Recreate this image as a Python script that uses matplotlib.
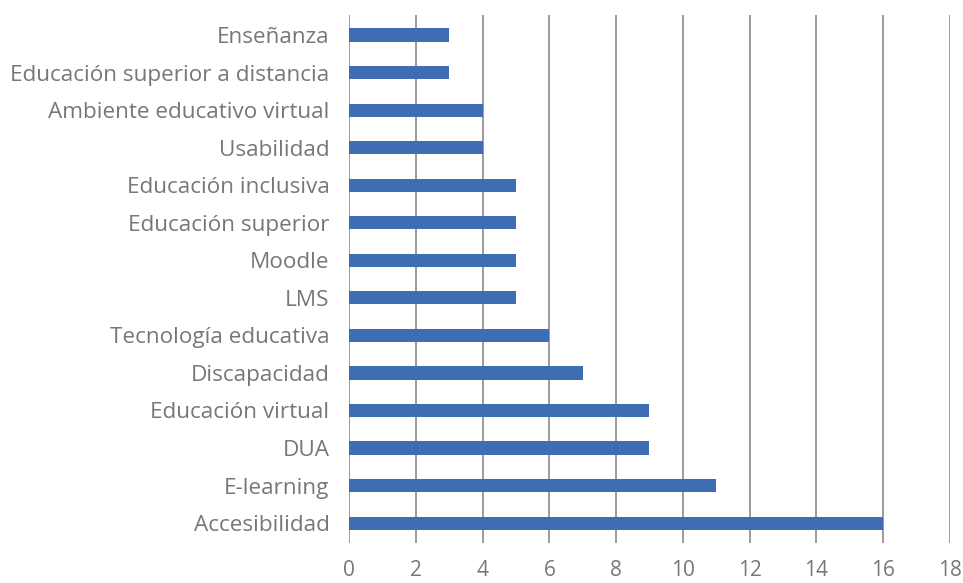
import matplotlib
matplotlib.use("Agg")
import matplotlib.pyplot as plt

categorias = ["Enseñanza", "Educación superior a distancia", "Ambiente educativo virtual",
              "Usabilidad", "Educación inclusiva", "Educación superior", "Moodle", "LMS",
              "Tecnología educativa", "Discapacidad", "Educación virtual", "DUA",
              "E-learning", "Accesibilidad"]
valores = [3, 3, 4, 4, 5, 5, 5, 5, 6, 7, 9, 9, 11, 16]
ticks_x = list(range(0, 19, 2))

plt.rcParams['font.family'] = ['Open Sans', 'DejaVu Sans']

fig = plt.figure(figsize=(9.63, 5.83), dpi=100)
ax = fig.add_axes([0.3624, 0.0686, 0.6241, 0.9054])

pos = list(range(len(categorias)))
ax.barh(pos, valores, height=0.35, color="#3f6db4", zorder=3)

ax.set_xlim(0, 18)
ax.set_ylim(len(categorias) - 0.47, -0.53)
ax.set_xticks(ticks_x)
ax.set_yticks(pos)
ax.set_yticklabels(categorias)

for x in ticks_x:
    ax.axvline(x, color="#8a8a8a", linewidth=1.2, zorder=1)

for s in ax.spines.values():
    s.set_visible(False)
ax.tick_params(axis="both", length=0, labelcolor="#777777")
ax.tick_params(axis="y", labelsize=16.2, pad=14)
ax.tick_params(axis="x", labelsize=15, pad=12)

fig.savefig("out.png", dpi=100)
